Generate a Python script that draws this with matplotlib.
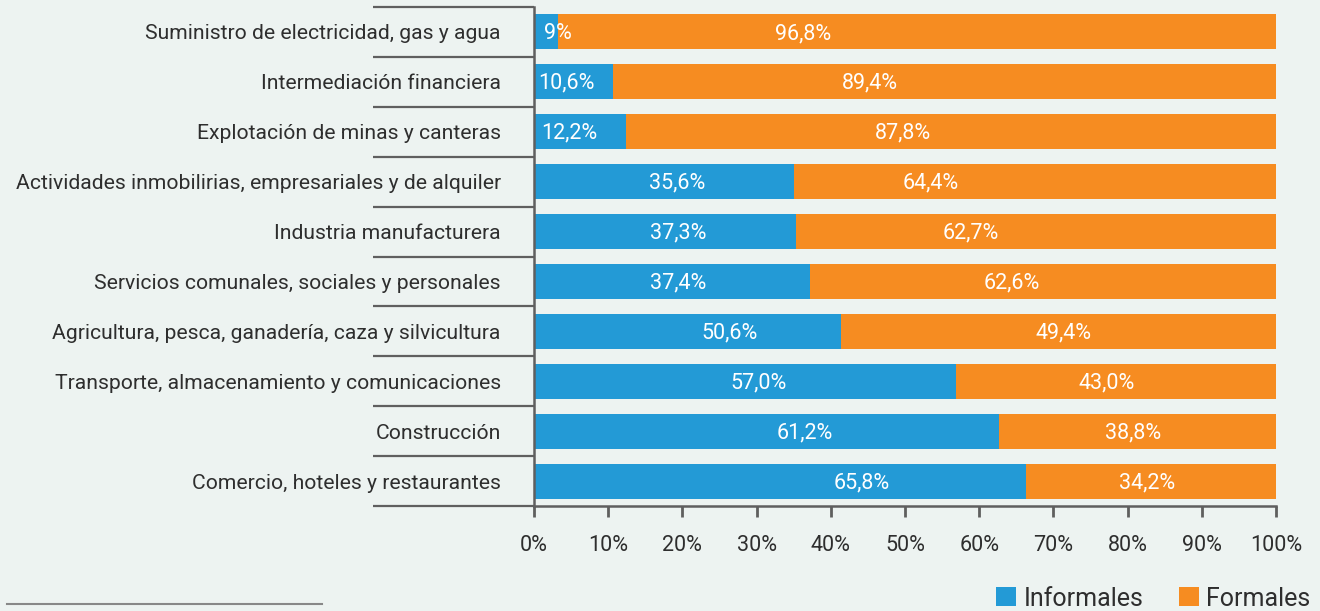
import matplotlib
matplotlib.use("Agg")
import matplotlib.pyplot as plt
from matplotlib.lines import Line2D
from matplotlib.patches import Patch

plt.rcParams['font.family'] = ['Roboto', 'DejaVu Sans']

# ---- data ----
categories = [
    "Suministro de electricidad, gas y agua",
    "Intermediación financiera",
    "Explotación de minas y canteras",
    "Actividades inmobilirias, empresariales y de alquiler",
    "Industria manufacturera",
    "Servicios comunales, sociales y personales",
    "Agricultura, pesca, ganadería, caza y silvicultura",
    "Transporte, almacenamiento y comunicaciones",
    "Construcción",
    "Comercio, hoteles y restaurantes",
]
# bar lengths as drawn in the picture (%)
informales = [3.2, 10.6, 12.4, 35.0, 35.3, 37.2, 41.4, 56.9, 62.7, 66.3]
formales = [100 - v for v in informales]
# printed labels
informales_txt = ["9%", "10,6%", "12,2%", "35,6%", "37,3%", "37,4%", "50,6%", "57,0%", "61,2%", "65,8%"]
formales_txt = ["96,8%", "89,4%", "87,8%", "64,4%", "62,7%", "62,6%", "49,4%", "43,0%", "38,8%", "34,2%"]
xticks = [0, 10, 20, 30, 40, 50, 60, 70, 80, 90, 100]
xtick_labels = [f"{t}%" for t in xticks]
series_names = ["Informales", "Formales"]

# label anchor positions (layout, in % axis units)
inf_label_x = [3.2, 4.4, 4.7, 19.3, 19.4, 19.4, 26.4, 30.3, 36.5, 44.1]
for_label_x = [36.3, 45.3, 49.7, 53.5, 58.8, 64.4, 71.4, 77.2, 80.7, 82.6]

# ---- style ----
BG = "#edf3f1"
BLUE = "#239ad6"
ORANGE = "#f68c21"
TXT = "#2e2e2e"
LINE = "#5f5f5f"

W, H = 1320, 611
fig = plt.figure(figsize=(W / 100, H / 100), dpi=100, facecolor=BG)
ax = fig.add_axes([534 / W, 1 - 506 / H, (1276 - 534) / W, (506 - 7) / H])
ax.set_facecolor("none")

y = list(range(len(categories)))
ax.barh(y, informales, height=0.70, color=BLUE, label=series_names[0], zorder=2)
ax.barh(y, formales, left=informales, height=0.70, color=ORANGE, label=series_names[1], zorder=2)

for i in y:
    ax.text(inf_label_x[i], i + 0.03, informales_txt[i], color="white", fontsize=15.5,
            ha="center", va="center", zorder=3)
    ax.text(for_label_x[i], i + 0.03, formales_txt[i], color="white", fontsize=15.5,
            ha="center", va="center", zorder=3)

ax.set_xlim(0, 100)
ax.set_ylim(len(categories) - 0.5, -0.5)

# x axis
ax.set_xticks(xticks)
ax.set_xticklabels(xtick_labels, fontsize=15.5, color=TXT)
ax.tick_params(axis="x", direction="out", length=8, width=2, color=LINE, pad=13)

# y axis: separator ticks at boundaries, labels at centres
ax.set_yticks([i - 0.5 for i in range(len(categories) + 1)])
ax.set_yticklabels([])
ax.tick_params(axis="y", which="major", direction="out", length=116, width=1.6, color=LINE)
ax.set_yticks(y, minor=True)
ax.set_yticklabels(categories, minor=True, fontsize=15.2, color=TXT)
ax.tick_params(axis="y", which="minor", length=0, pad=24)

for s in ["top", "right"]:
    ax.spines[s].set_visible(False)
for s in ["left", "bottom"]:
    ax.spines[s].set_color(LINE)
    ax.spines[s].set_linewidth(1.8)

# legend
handles = [Patch(facecolor=BLUE, edgecolor="none"), Patch(facecolor=ORANGE, edgecolor="none")]
leg = fig.legend(handles, series_names, loc="lower right", bbox_to_anchor=(1333 / W, -22 / H),
                 ncol=2, frameon=False, fontsize=18, handlelength=0.8, handleheight=0.8,
                 handletextpad=0.3, columnspacing=1.4, labelcolor=TXT)

# footnote rule
fig.add_artist(Line2D([7 / W, 322 / W], [1 - 604 / H, 1 - 604 / H], color="#888888", lw=1.5))

fig.savefig("out.png", dpi=100, facecolor=BG)
